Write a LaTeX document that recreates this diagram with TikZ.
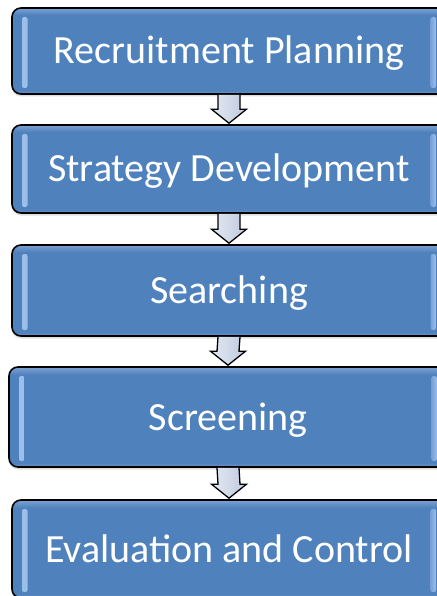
\documentclass[tikz,border=0pt]{standalone}
\usepackage{fontspec}
\setmainfont{Carlito}
\usetikzlibrary{positioning, calc, shadows}

\definecolor{boxblue}{HTML}{4F81BD}
\definecolor{boxtop}{HTML}{7DA2D2}
\definecolor{boxlow}{HTML}{6F96CB}
\definecolor{hiblue}{HTML}{9CBFEB}
\definecolor{hiside}{HTML}{79A1D6}
\definecolor{arrowlight}{HTML}{E4E9F2}
\definecolor{arrowdark}{HTML}{BFCADF}

\pgfdeclareverticalshading{boxshade}{100bp}{color(0bp)=(boxlow); color(25bp)=(boxlow);
  color(27bp)=(boxblue); color(71bp)=(boxblue); color(75bp)=(boxtop); color(100bp)=(boxtop)}

\begin{document}
\begin{tikzpicture}[
                x=1pt, y=1pt,
                stepbox/.style={rectangle, rounded corners=9pt, draw=black, line width=1.6pt,
                    shading=boxshade, minimum width=434pt, inner sep=0pt,
                    text=white, font=\fontsize{40}{48}\selectfont,
                    text height=26pt, text depth=0pt,
                    drop shadow={opacity=0.25, shadow xshift=0pt, shadow yshift=-2.5pt},
                    path picture={
                        % light bars on the left and right side
                        \shade[left color=hiblue, middle color=white, right color=hiside, rounded corners=2pt]
                            ([xshift=10pt, yshift=-9pt]path picture bounding box.north west)
                            rectangle ([xshift=15.5pt, yshift=6pt]path picture bounding box.south west);
                        \shade[left color=hiside, middle color=white, right color=hiblue, rounded corners=2pt]
                            ([xshift=-15.5pt, yshift=-9pt]path picture bounding box.north east)
                            rectangle ([xshift=-10pt, yshift=6pt]path picture bounding box.south east);
                    }},
                flowarrow/.style={draw=black, line width=1.3pt, line join=miter,
                    left color=arrowlight, right color=arrowdark},
            ]
                \useasboundingbox[fill=white] (0,0) rectangle (436,-596);

                % Draw the steps
                \node[stepbox, minimum height=86pt] (b1) at (229,-51) {Recruitment Planning};
                \node[stepbox, minimum height=88pt] (b2) at (229,-169) {Strategy Development};
                \node[stepbox, minimum height=91pt] (b3) at (229,-290.5) {Searching};
                \node[stepbox, minimum height=100pt, minimum width=438pt] (b4) at (228,-417) {Screening};
                \node[stepbox, minimum height=98pt] (b5) at (229,-549) {Evaluation and Control};

                % Block arrows from one step down to the next
                \foreach \i/\j in {1/2, 2/3, 3/4, 4/5}
                    \shadedraw[flowarrow] ($(b\i.south)+(-11,0)$) -- ($(b\j.north)+(-11,15)$)
                        -- ++(-6.5,0) -- ($(b\j.north)+(0,1)$) -- ($(b\j.north)+(17.5,15)$)
                        -- ++(-6.5,0) -- ($(b\i.south)+(11,0)$);
            \end{tikzpicture}
\end{document}
